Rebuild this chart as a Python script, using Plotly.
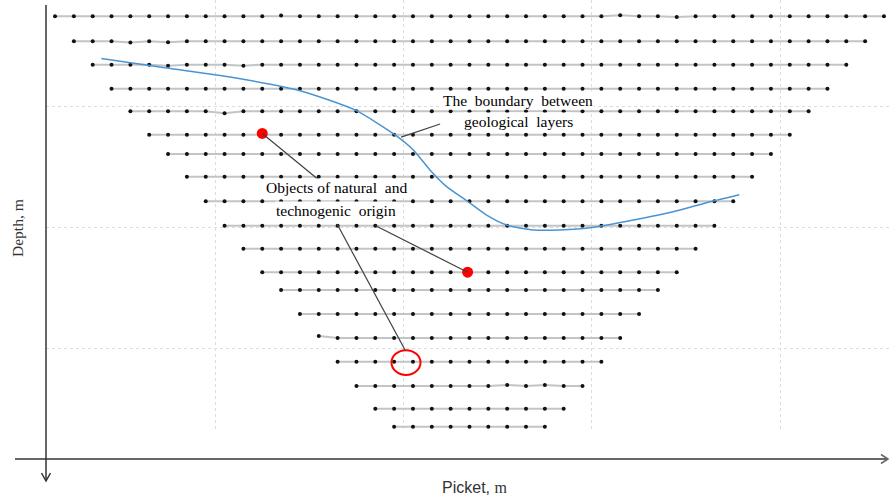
import plotly.graph_objects as go

# ---------------- data ----------------
# picket positions (m) and depth levels (m) of the measurement grid
pickets = [1.5 + i for i in range(45)]
depth_levels = [1.31, 2.34, 3.30, 4.29, 5.22, 6.18, 6.98, 7.91, 8.92, 9.93,
                10.87, 11.84, 12.57, 13.56, 14.55, 15.52, 16.52, 17.46, 18.20]
# small measured deviations of individual points: (row, picket index, depth offset)
jitter = [(1, 4, 0.05), (1, 6, 0.04), (2, 6, 0.04), (2, 10, 0.04),
          (4, 9, 0.08), (0, 12, -0.03), (0, 30, -0.04), (0, 33, 0.03),
          (14, 14, -0.08), (16, 24, -0.04), (16, 26, -0.04)]

# boundary between geological layers
boundary_x = [3.96, 7.43, 10.95, 14.50, 17.42, 19.55, 20.52, 21.40, 22.29, 23.35,
              24.41, 25.48, 26.89, 28.30, 30.07, 32.20, 34.32, 36.44, 37.82]
boundary_y = [3.05, 3.44, 3.83, 4.37, 5.16, 6.19, 6.81, 7.63, 8.32, 8.90,
              9.49, 9.90, 10.10, 10.10, 9.99, 9.69, 9.35, 8.91, 8.65]

# objects of natural and technogenic origin
objects_x = [12.5, 23.4]
objects_y = [6.13, 11.84]
circle_center = (20.13, 15.56)
circle_radius = (0.77, 0.51)

x_range = [1.022, 45.82]
y_range = [18.416, 0.638]

fig = go.Figure()

jit = {(r, p): d for r, p, d in jitter}
for r, d in enumerate(depth_levels):
    idx = list(range(r, 45 - r))
    xs = [pickets[i] for i in idx]
    ys = [d + jit.get((r, i), 0.0) for i in idx]
    fig.add_trace(go.Scatter(
        x=xs, y=ys, mode="lines+markers",
        line=dict(color="#c4c4c4", width=2),
        marker=dict(color="#111111", size=4),
        hoverinfo="skip", showlegend=False))

fig.add_trace(go.Scatter(
    x=boundary_x, y=boundary_y, mode="lines",
    line=dict(color="#4a94d2", width=1.5, shape="spline", smoothing=0.6),
    hoverinfo="skip", showlegend=False))

fig.add_trace(go.Scatter(
    x=objects_x, y=objects_y, mode="markers",
    marker=dict(color="#ff0000", size=11),
    hoverinfo="skip", showlegend=False))

shapes = []
# red circle
shapes.append(dict(type="circle", xref="x", yref="y",
                   x0=circle_center[0] - circle_radius[0], x1=circle_center[0] + circle_radius[0],
                   y0=circle_center[1] - circle_radius[1], y1=circle_center[1] + circle_radius[1],
                   line=dict(color="#ff0000", width=2), layer="above"))
# callout lines
callouts = [((19.87, 6.28), (21.94, 5.74)),
            ((objects_x[0], objects_y[0]), (15.57, 8.09)),
            ((18.52, 9.93), (objects_x[1], objects_y[1])),
            ((16.48, 9.87), (20.08, 15.04))]
for (a, b) in callouts:
    shapes.append(dict(type="line", xref="x", yref="y", x0=a[0], y0=a[1], x1=b[0], y1=b[1],
                       line=dict(color="#404040", width=1.2), layer="above"))

# axes with arrows (paper coordinates; plot area 46..890 x 0..432 px)
def px(xp):
    return (xp - 46) / 844.0

def py(yp):
    return (432 - yp) / 432.0

shapes.append(dict(type="line", xref="paper", yref="paper",
                   x0=px(15), y0=py(459), x1=px(888), y1=py(459),
                   line=dict(color="#666666", width=2)))
shapes.append(dict(type="path", xref="paper", yref="paper",
                   path=f"M {px(881)} {py(454.5)} L {px(888)} {py(459)} L {px(881)} {py(463.5)}",
                   line=dict(color="#666666", width=1.5)))
shapes.append(dict(type="line", xref="paper", yref="paper",
                   x0=px(46), y0=py(5), x1=px(46), y1=py(481),
                   line=dict(color="#333333", width=1.5)))
shapes.append(dict(type="path", xref="paper", yref="paper",
                   path=f"M {px(41.5)} {py(473)} L {px(46)} {py(481)} L {px(50.5)} {py(473)}",
                   line=dict(color="#333333", width=1.5)))

serif = "Liberation Serif, Times New Roman, serif"
annotations = []
labels = [("The  boundary  between", 26.08, 4.79),
          ("geological  layers", 26.08, 5.62),
          ("Objects of natural  and", 16.42, 8.37),
          ("technogenic  origin", 16.42, 9.28)]
for t, x, y in labels:
    annotations.append(dict(text=t, x=x, y=y, xref="x", yref="y", showarrow=False,
                            font=dict(family=serif, size=15.5, color="#000000"),
                            bgcolor="#ffffff", borderpad=0, xanchor="center", yanchor="middle"))

annotations.append(dict(text="Depth, m", x=px(17), y=py(228), xref="paper", yref="paper",
                        showarrow=False, textangle=-90,
                        font=dict(family=serif, size=15.5, color="#333333"),
                        xanchor="center", yanchor="middle"))
annotations.append(dict(text='Picket, <span style="font-family:Liberation Serif">m</span>',
                        x=px(474), y=py(487), xref="paper", yref="paper", showarrow=False,
                        font=dict(family="Liberation Sans, Arial, sans-serif", size=16, color="#333333"),
                        xanchor="center", yanchor="middle"))

fig.update_layout(
    width=890, height=498,
    margin=dict(l=46, r=0, t=0, b=66),
    paper_bgcolor="#ffffff", plot_bgcolor="#ffffff",
    shapes=shapes, annotations=annotations,
    showlegend=False,
    xaxis=dict(range=x_range, showgrid=True, gridcolor="#dcdcdc", griddash="dot", gridwidth=1,
               tick0=0, dtick=10, showticklabels=False, ticks="", zeroline=False,
               showline=False),
    yaxis=dict(range=y_range, showgrid=True, gridcolor="#dcdcdc", griddash="dot", gridwidth=1,
               tick0=0, dtick=5, showticklabels=False, ticks="", zeroline=False,
               showline=False),
)

fig.write_html("out.html", config={"displayModeBar": False},
               post_script="document.body.style.margin='0';document.body.style.overflow='hidden';")
